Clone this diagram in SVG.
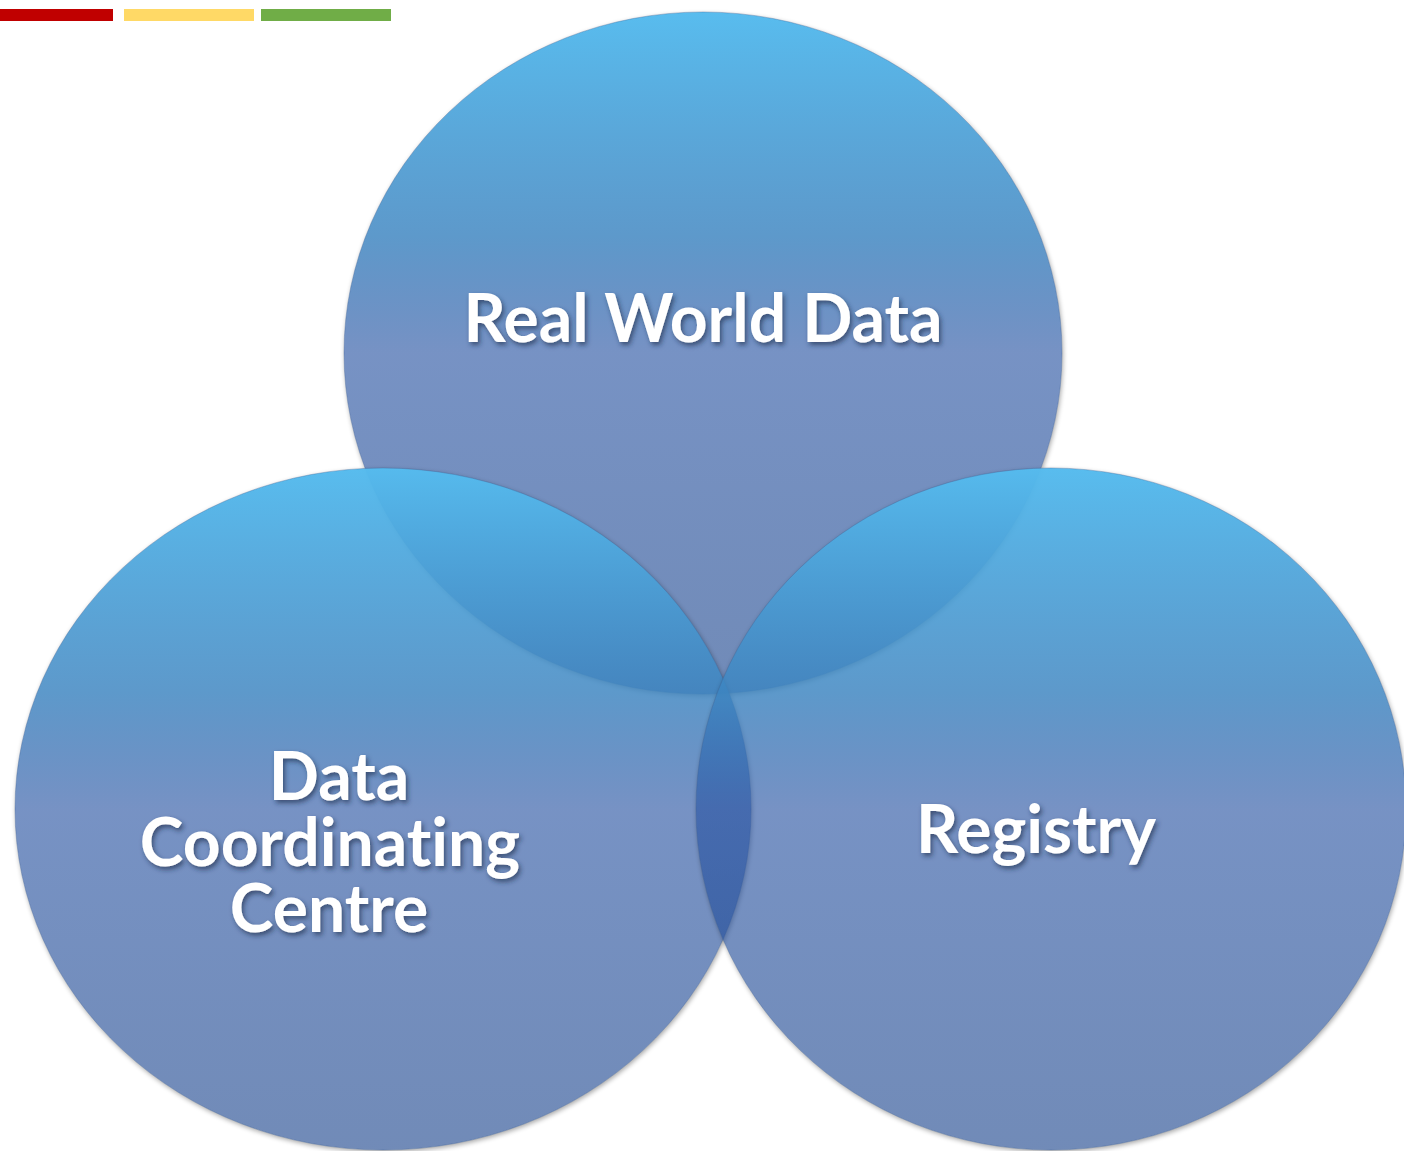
<svg xmlns="http://www.w3.org/2000/svg" width="1404" height="1151" viewBox="0 0 1404 1151">
  <style>
    .lbl { font-family: Lato, "Open Sans", "DejaVu Sans", sans-serif; font-weight: bold; font-size: 66px; fill: #ffffff; text-anchor: middle; filter: url(#txtShadow); font-variant-ligatures: none; font-feature-settings: "liga" 0, "clig" 0; }
    .circle { fill: url(#vennGrad); stroke: #3d5f92; stroke-opacity: 0.35; stroke-width: 1; }
    .shadow { fill: #000000; opacity: 0.35; filter: url(#blur); }
  </style>
  <defs>
    <linearGradient id="vennGrad" x1="0" y1="0" x2="0" y2="1">
      <stop offset="0" stop-color="#55BBEE" stop-opacity="0.98"/>
      <stop offset="0.33" stop-color="#3C84C0" stop-opacity="0.83"/>
      <stop offset="0.5" stop-color="#2A55A3" stop-opacity="0.64"/>
      <stop offset="1" stop-color="#123D88" stop-opacity="0.6"/>
    </linearGradient>
    <filter id="blur" x="-10%" y="-10%" width="120%" height="120%">
      <feGaussianBlur stdDeviation="2.5"/>
    </filter>
    <filter id="txtShadow" x="-10%" y="-20%" width="120%" height="150%">
      <feDropShadow dx="2" dy="3" stdDeviation="2.5" flood-color="#1a2a4a" flood-opacity="0.65"/>
    </filter>
    <mask id="mTop" maskUnits="userSpaceOnUse" x="0" y="0" width="1404" height="1151">
      <rect width="1404" height="1151" fill="#fff"/>
      <ellipse cx="703" cy="353" rx="359" ry="341" fill="#000"/>
    </mask>
    <mask id="mLeft" maskUnits="userSpaceOnUse" x="0" y="0" width="1404" height="1151">
      <rect width="1404" height="1151" fill="#fff"/>
      <ellipse cx="383" cy="809" rx="368" ry="341" fill="#000"/>
    </mask>
    <mask id="mRight" maskUnits="userSpaceOnUse" x="0" y="0" width="1404" height="1151">
      <rect width="1404" height="1151" fill="#fff"/>
      <ellipse cx="1051" cy="809" rx="355" ry="341" fill="#000"/>
    </mask>
  </defs>

  <g id="accent-bars">
    <rect x="0" y="9" width="113" height="12" fill="#C00000"/>
    <rect x="124" y="9" width="130" height="12" fill="#FFD966"/>
    <rect x="261" y="9" width="130" height="12" fill="#70AD47"/>
  </g>

  <g id="node-real-world-data">
    <ellipse class="shadow" cx="704" cy="355" rx="359" ry="341" mask="url(#mTop)"/>
    <ellipse class="circle" cx="703" cy="353" rx="359" ry="341"/>
  </g>

  <g id="node-data-coordinating-centre">
    <ellipse class="shadow" cx="384" cy="811" rx="368" ry="341" mask="url(#mLeft)"/>
    <ellipse class="circle" cx="383" cy="809" rx="368" ry="341"/>
  </g>

  <g id="node-registry">
    <ellipse class="shadow" cx="1052" cy="811" rx="355" ry="341" mask="url(#mRight)"/>
    <ellipse class="circle" cx="1051" cy="809" rx="355" ry="341"/>
  </g>

  <g id="connectors"/>

  <g id="labels">
    <text class="lbl" x="703" y="342">Real World Data</text>
    <text class="lbl" x="1036" y="853">Registry</text>
    <text class="lbl" x="339" y="800">Data</text>
    <text class="lbl" x="330" y="866">Coordinating</text>
    <text class="lbl" x="329" y="932">Centre</text>
  </g>
</svg>
